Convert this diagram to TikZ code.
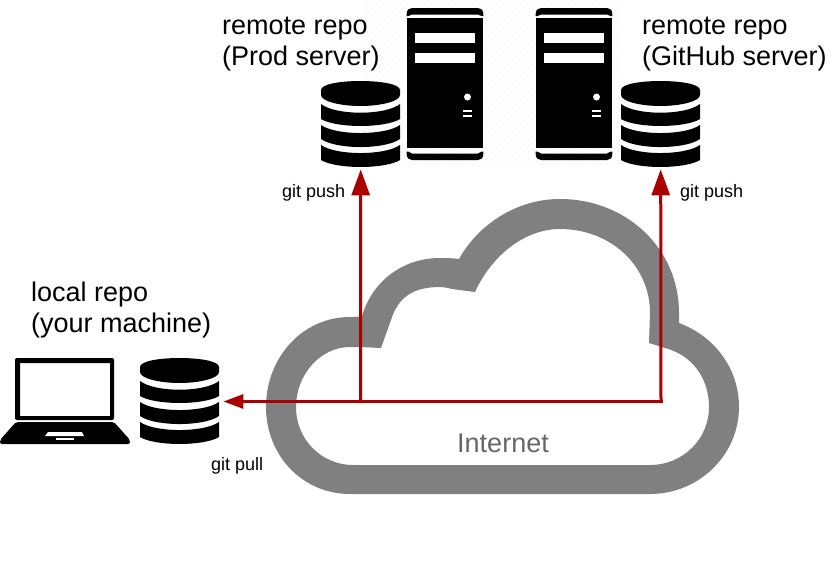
\documentclass[tikz,border=0pt]{standalone}
\usepackage{fontspec}
\setmainfont{Liberation Sans}
\definecolor{arrowred}{HTML}{AA0000}
\definecolor{cloudgray}{HTML}{808080}
\definecolor{inettext}{HTML}{666666}
\definecolor{hatchgray}{HTML}{F7F7F7}
\usetikzlibrary{arrows.meta}
\tikzset{
  bigtext/.style={font=\fontsize{27}{31}\selectfont, align=left, anchor=north west, inner sep=0pt, text=black},
  smalltext/.style={font=\fontsize{18}{21}\selectfont, anchor=base west, inner sep=0pt, text=black},
  anchorbox/.style={inner sep=0pt, minimum width=79pt, draw=none},
  flow/.style={draw=arrowred, line width=3pt, line cap=rect},
  bighead/.style={-{Triangle[length=26pt,width=18pt,fill=arrowred]}},
  lefthead/.style={-{Triangle[length=20pt,width=14pt,fill=arrowred]}},
  pics/database/.style={code={
    \fill[black] (0,9) .. controls (0,3) and (20,0) .. (39.5,0) .. controls (59,0) and (79,3) .. (79,9) -- (79,14) .. controls (79,20.5) and (59,25) .. (39.5,25) .. controls (20,25) and (0,20.5) .. (0,14) -- cycle;
    \fill[black] (0,23) .. controls (15,34.6) and (64,34.6) .. (79,23) -- (79,38) .. controls (64,47.3) and (15,47.3) .. (0,38) -- cycle;
    \fill[black] (0,44) .. controls (15,54.7) and (64,54.7) .. (79,44) -- (79,58) .. controls (64,68.7) and (15,68.7) .. (0,58) -- cycle;
    \fill[black] (0,64) .. controls (15,74.7) and (64,74.7) .. (79,64) -- (79,79) .. controls (64,88.3) and (15,88.3) .. (0,79) -- cycle;
  }},
  pics/serverbox/.style={code={
    \fill[black] (0.7,8) -- (0.7,6) .. controls (0.7,2) and (3,0) .. (6,0) -- (72,0) .. controls (75,0) and (77.3,2) .. (77.3,6) -- (77.3,8) -- (75.5,8) -- (72,6.5) -- (6,6.5) -- (2.5,8) -- cycle;
    \fill[black] (0.7,10.3) rectangle (77.3,140.3);
    \fill[black] (0.7,143.7) -- (2.5,143.7) -- (6,145.5) -- (72,145.5) -- (75.5,143.7) -- (77.3,143.7) -- (77.3,146) .. controls (77.3,150) and (75,152) .. (72,152) -- (6,152) .. controls (3,152) and (0.7,150) .. (0.7,146) -- cycle;
    \fill[white] (8.5,25.3) rectangle (69,35.3);
    \fill[white] (8.5,45.3) rectangle (69,55.3);
    \fill[white] (61.5,89) circle[radius=3.5];
    \fill[white] (57,101.5) rectangle (66,104);
    \fill[white] (57,106.5) rectangle (66,109);
  }},
}
\begin{document}
\begin{tikzpicture}[x=1pt,y=-1pt]
\useasboundingbox (0,0) rectangle (839,584);
% faint hatched backdrop behind the servers
\begin{scope}
  \clip (363,0) rectangle (620,167);
  \foreach \k in {0,6,...,450} {
    \draw[hatchgray,line width=1pt] (363+\k,0) -- (363+\k-167,167);
  }
\end{scope}
% cloud
\fill[cloudgray,even odd rule]
  (350,494) -- (650,494) .. controls (699,494) and (739,455) .. (739,407)
  .. controls (739,368) and (714,336) .. (679,323) -- (679,313)
  .. controls (679,248) and (626,199) .. (560,199)
  .. controls (516,199) and (478,225) .. (459,259)
  .. controls (452,258) and (446,258) .. (440,258)
  .. controls (402,258) and (372,282) .. (362,316)
  .. controls (358,317) and (354,317) .. (350,317)
  .. controls (302,317) and (266,358) .. (266,407)
  .. controls (266,455) and (302,494) .. (350,494) -- cycle
  (353,465) -- (650,465) .. controls (683,465) and (709,439) .. (709,407)
  .. controls (709,378) and (692,355) .. (665,348) -- (649,343) -- (650,313)
  .. controls (650,265) and (610,229) .. (560,229)
  .. controls (525,229) and (492,255) .. (475,292) -- (452,289)
  .. controls (448,288) and (444,287) .. (440,287)
  .. controls (412,287) and (398,298) .. (391,320) -- (381,348) -- (360,347)
  -- (350,347)
  .. controls (320,347) and (296,375) .. (296,407)
  .. controls (296,440) and (322,465) .. (353,465) -- cycle;
% databases
\node[anchorbox,minimum height=86pt,anchor=north west] (dbprod) at (321,81) {};
\node[anchorbox,minimum height=86pt,anchor=north west] (dbhub) at (621,81) {};
\node[anchorbox,minimum height=86pt,anchor=north west] (dblocal) at (140,358) {};
\pic at (dbprod.north west) {database};
\pic at (dbhub.north west) {database};
\pic at (dblocal.north west) {database};
% servers
\pic at (406,8) {serverbox};
\pic at (535,8) {serverbox};
% laptop
\fill[black,rounded corners=2pt,even odd rule] (15,358) rectangle (114,420) (20,363) [sharp corners] rectangle (110,416);
\fill[black,rounded corners=2pt] (16,422) -- (114,422) -- (130,440) -- (130,444) -- (0,444) -- (0,440) -- cycle;
\fill[white] (48,432) -- (82,432) -- (84,436) -- (45,436) -- cycle;
\fill[white] (56,438) rectangle (74,440);
% junctions and connectors
\coordinate (corner) at (661,401.5);
\coordinate (tee) at (360.5,401.5);
\coordinate (localtip) at ([xshift=4pt]dblocal.east);
\draw[flow,lefthead] (corner) -- (localtip |- tee);
\draw[flow,bighead] (tee) -- ([yshift=-2pt]dbprod.south);
\draw[flow,bighead] (corner) -- ([yshift=-2pt]dbhub.south);
% labels
\node[bigtext] (lblprod) at (222,17) {remote repo\\(Prod server)};
\node[bigtext] (lblhub) at (642,17) {remote repo\\(GitHub server)};
\node[bigtext] (lbllocal) at (31,282) {local repo\\(your machine)};
\node[smalltext] (pushprod) at (282,197) {git push};
\node[smalltext] (pushhub) at (680,197) {git push};
\node[smalltext] (pull) at (211,470) {git pull};
\node[font=\fontsize{27}{31}\selectfont,text=inettext,anchor=base,inner sep=0pt] (inet) at (503,452) {Internet};
\end{tikzpicture}
\end{document}
